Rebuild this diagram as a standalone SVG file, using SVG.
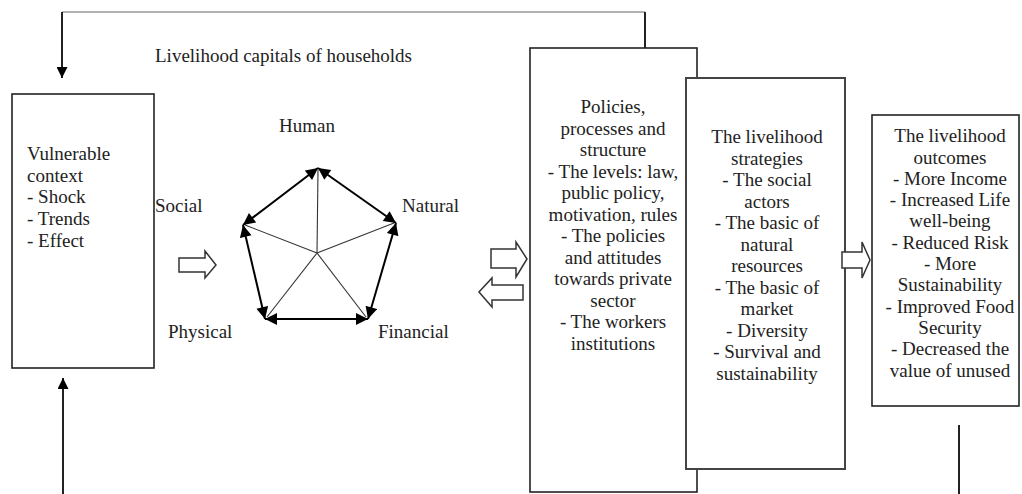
<svg xmlns="http://www.w3.org/2000/svg" width="1022" height="494" viewBox="0 0 1022 494">
  <style>
    text { font-family: "Liberation Serif", "Times New Roman", serif; font-size: 19px; fill: #222; }
    .c { text-anchor: middle; }
    .box { fill: #fff; stroke: #222; stroke-width: 1.6; }
    .box2 { fill: #fff; stroke: #444; stroke-width: 2; }
    .edge { stroke: #000; stroke-width: 2; fill: none; marker-start: url(#ah); marker-end: url(#ah); }
    .spoke { stroke: #333; stroke-width: 1.1; fill: none; }
    .hollow { fill: #fff; stroke: #333; stroke-width: 1.5; stroke-linejoin: miter; }
    .line { stroke: #222; stroke-width: 2; fill: none; }
  </style>
  <defs>
    <marker id="ah" viewBox="0 0 10 10" refX="10" refY="5" markerWidth="6.5" markerHeight="6" orient="auto-start-reverse" markerUnits="strokeWidth">
      <path d="M0,0 L10,5 L0,10 z" fill="#000"/>
    </marker>
    <marker id="ar" viewBox="0 0 10 10" refX="10" refY="5" markerWidth="5.5" markerHeight="5.5" orient="auto" markerUnits="strokeWidth">
      <path d="M0,0 L10,5 L0,10 z" fill="#000"/>
    </marker>
  </defs>

  <g id="connectors">
    <path d="M62,12 H645" stroke="#999" stroke-width="1.3" fill="none"/>
    <path d="M645,12 V48" class="line"/>
    <path d="M62,12 V78" class="line" marker-end="url(#ar)"/>
    <path d="M63,494 V378" class="line" marker-end="url(#ar)"/>
    <path d="M959,425 V494" class="line"/>
    <path class="hollow" d="M179,258 H205 V251 L216,265 L205,278 V272 H179 Z"/>
    <path class="hollow" d="M491,249 H516 V242 L527,259 L516,277 V268 H491 Z"/>
    <path class="hollow" d="M523,285 H492 V278 L479,292 L492,307 V300 H523 Z"/>
  </g>

  <g id="title">
    <text x="155" y="62">Livelihood capitals of households</text>
  </g>

  <g id="vulnerable">
    <rect class="box" x="12" y="94" width="142" height="274"/>
    <text x="27" y="160">Vulnerable</text>
    <text x="27" y="182">context</text>
    <text x="27" y="203">- Shock</text>
    <text x="27" y="225">- Trends</text>
    <text x="27" y="247">- Effect</text>
  </g>

  <g id="capitals">
    <path class="spoke" d="M317,253 L318,170"/>
    <path class="spoke" d="M317,253 L245,225"/>
    <path class="spoke" d="M317,253 L394,223"/>
    <path class="spoke" d="M317,253 L267,317"/>
    <path class="spoke" d="M317,253 L366,317"/>
    <path class="edge" d="M318,168 L243,225"/>
    <path class="edge" d="M318,168 L396,223"/>
    <path class="edge" d="M396,223 L368,319"/>
    <path class="edge" d="M368,319 L265,319"/>
    <path class="edge" d="M265,319 L243,225"/>
    <text class="c" x="307" y="132">Human</text>
    <text x="155" y="212">Social</text>
    <text x="402" y="212">Natural</text>
    <text x="168" y="338">Physical</text>
    <text x="378" y="338">Financial</text>
  </g>

  <g id="policies">
    <rect class="box" x="530" y="48" width="167" height="444"/>
    <text class="c" x="613" y="113">Policies,</text>
    <text class="c" x="613" y="134.5">processes and</text>
    <text class="c" x="613" y="156">structure</text>
    <text class="c" x="613" y="177.5">- The levels: law,</text>
    <text class="c" x="613" y="199">public policy,</text>
    <text class="c" x="613" y="220.5">motivation, rules</text>
    <text class="c" x="613" y="242">- The policies</text>
    <text class="c" x="613" y="263.5">and attitudes</text>
    <text class="c" x="613" y="285">towards private</text>
    <text class="c" x="613" y="306.5">sector</text>
    <text class="c" x="613" y="328">- The workers</text>
    <text class="c" x="613" y="349.5">institutions</text>
  </g>

  <g id="strategies">
    <rect class="box2" x="686" y="78" width="159" height="391"/>
    <text class="c" x="767" y="143">The livelihood</text>
    <text class="c" x="767" y="164.5">strategies</text>
    <text class="c" x="767" y="186">- The social</text>
    <text class="c" x="767" y="207.5">actors</text>
    <text class="c" x="767" y="229">- The basic of</text>
    <text class="c" x="767" y="250.5">natural</text>
    <text class="c" x="767" y="272">resources</text>
    <text class="c" x="767" y="293.5">- The basic of</text>
    <text class="c" x="767" y="315">market</text>
    <text class="c" x="767" y="336.5">- Diversity</text>
    <text class="c" x="767" y="358">- Survival and</text>
    <text class="c" x="767" y="379.5">sustainability</text>
  </g>

  <g id="arrow-outcomes">
    <path class="hollow" d="M842,252 H862 V242 L870,260 L862,278 V268 H842 Z"/>
  </g>

  <g id="outcomes">
    <rect class="box" x="872" y="115" width="147" height="291"/>
    <text class="c" x="950" y="142">The livelihood</text>
    <text class="c" x="950" y="163.5">outcomes</text>
    <text class="c" x="950" y="185">- More Income</text>
    <text class="c" x="950" y="206">- Increased Life</text>
    <text class="c" x="950" y="227">well-being</text>
    <text class="c" x="950" y="248.5">- Reduced Risk</text>
    <text class="c" x="950" y="270">- More</text>
    <text class="c" x="950" y="291">Sustainability</text>
    <text class="c" x="950" y="312.5">- Improved Food</text>
    <text class="c" x="950" y="334">Security</text>
    <text class="c" x="950" y="355">- Decreased the</text>
    <text class="c" x="950" y="377">value of unused</text>
  </g>
</svg>
